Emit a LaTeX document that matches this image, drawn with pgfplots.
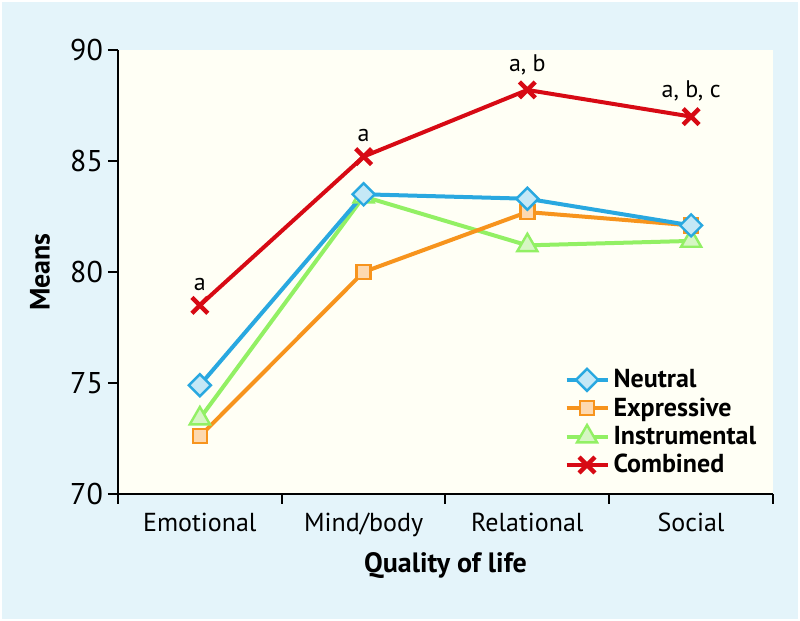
\documentclass[border=0pt]{standalone}
\usepackage{pgfplots}
\pgfplotsset{compat=1.18}
\usepackage{fontspec}
\setmainfont{PT Sans}
\definecolor{bgblue}{RGB}{228,244,250}
\definecolor{cream}{RGB}{255,255,245}
\definecolor{nblue}{RGB}{41,168,224}
\definecolor{nbluefill}{RGB}{197,232,246}
\definecolor{eorange}{RGB}{247,148,29}
\definecolor{eorangefill}{RGB}{253,217,176}
\definecolor{igreen}{RGB}{146,240,100}
\definecolor{igreenfill}{RGB}{214,246,196}
\definecolor{cred}{RGB}{215,10,20}
\pgfplotsset{
  neutral/.style={color=nblue, line width=2pt, mark=square*, mark size=3.9pt,
    mark options={rotate=45, fill=nbluefill, draw=nblue, line width=1.2pt, solid}},
  expressive/.style={color=eorange, line width=2pt, mark=square*, mark size=3.5pt,
    mark options={fill=eorangefill, draw=eorange, line width=1.2pt, solid}},
  instrumental/.style={color=igreen, line width=2pt, mark=triangle*, mark size=5.8pt,
    mark options={fill=igreenfill, draw=igreen, line width=1.2pt, solid}},
  combined/.style={color=cred, line width=2pt, mark=x, mark size=5.6pt,
    mark options={draw=cred, line width=2.2pt, solid}},
}
\begin{document}
\begin{tikzpicture}
\fill[white] (-59pt,-63.5pt) rectangle (341pt,247pt);
\fill[bgblue] (-58pt,-62.5pt) rectangle (340pt,246pt);
\begin{axis}[
  scale only axis,
  width=327.5pt, height=222pt,
  xmin=-0.5, xmax=3.5, ymin=70, ymax=90,
  axis background/.style={fill=cream},
  axis x line=bottom, axis y line=left,
  axis line style={-, line width=1pt, black},
  xtick={0,1,2,3},
  xticklabels={Emotional, Mind/body, Relational, Social},
  minor xtick={-0.5,0.5,1.5,2.5,3.5},
  ytick={70,75,80,85,90},
  tick align=outside,
  major tick length=5pt, minor tick length=5pt,
  major x tick style={draw=none},
  every tick/.style={black, line width=1pt},
  xticklabel style={yshift=-1pt, font=\fontsize{13}{15}\selectfont},
  yticklabel style={font=\fontsize{15}{17}\selectfont, xshift=1pt},
  /pgf/number format/assume math mode=true,
  ylabel={\textbf{Means}},
  xlabel={\textbf{Quality of life}},
  ylabel style={at={(axis description cs:-0.119,0.5)}, anchor=center, font=\fontsize{14}{16}\selectfont},
  xlabel style={at={(axis description cs:0.5,-0.16)}, anchor=center, font=\fontsize{14}{16}\selectfont},
  clip=false,
  legend style={draw=none, fill=none, at={(rel axis cs:0.672,0.30)}, anchor=north west,
    font=\fontsize{13}{15}\selectfont\bfseries, row sep=-0.5pt, cells={anchor=west}},
  legend image code/.code={\draw[mark repeat=2,mark phase=2] plot coordinates {(0cm,0cm) (0.36cm,0cm) (0.72cm,0cm)};},
]
\addplot[instrumental, forget plot] coordinates {(0,73.4) (1,83.4) (2,81.2) (3,81.4)};
\addplot[expressive, forget plot] coordinates {(0,72.6) (1,80.0) (2,82.7) (3,82.1)};
\addplot[neutral, forget plot] coordinates {(0,74.9) (1,83.5) (2,83.3) (3,82.1)};
\addplot[combined, forget plot] coordinates {(0,78.5) (1,85.2) (2,88.2) (3,87.0)};
\addlegendimage{neutral}\addlegendentry{Neutral}
\addlegendimage{expressive}\addlegendentry{Expressive}
\addlegendimage{instrumental}\addlegendentry{Instrumental}
\addlegendimage{combined}\addlegendentry{Combined}
\node[above, font=\fontsize{12}{14}\selectfont, yshift=4pt] at (axis cs:0,78.5) {a};
\node[above, font=\fontsize{12}{14}\selectfont, yshift=4pt] at (axis cs:1,85.2) {a};
\node[above, font=\fontsize{12}{14}\selectfont, yshift=4pt] at (axis cs:2,88.2) {a, b};
\node[above, font=\fontsize{12}{14}\selectfont, yshift=4pt] at (axis cs:3,87.0) {a, b, c};
\end{axis}
\end{tikzpicture}
\end{document}
